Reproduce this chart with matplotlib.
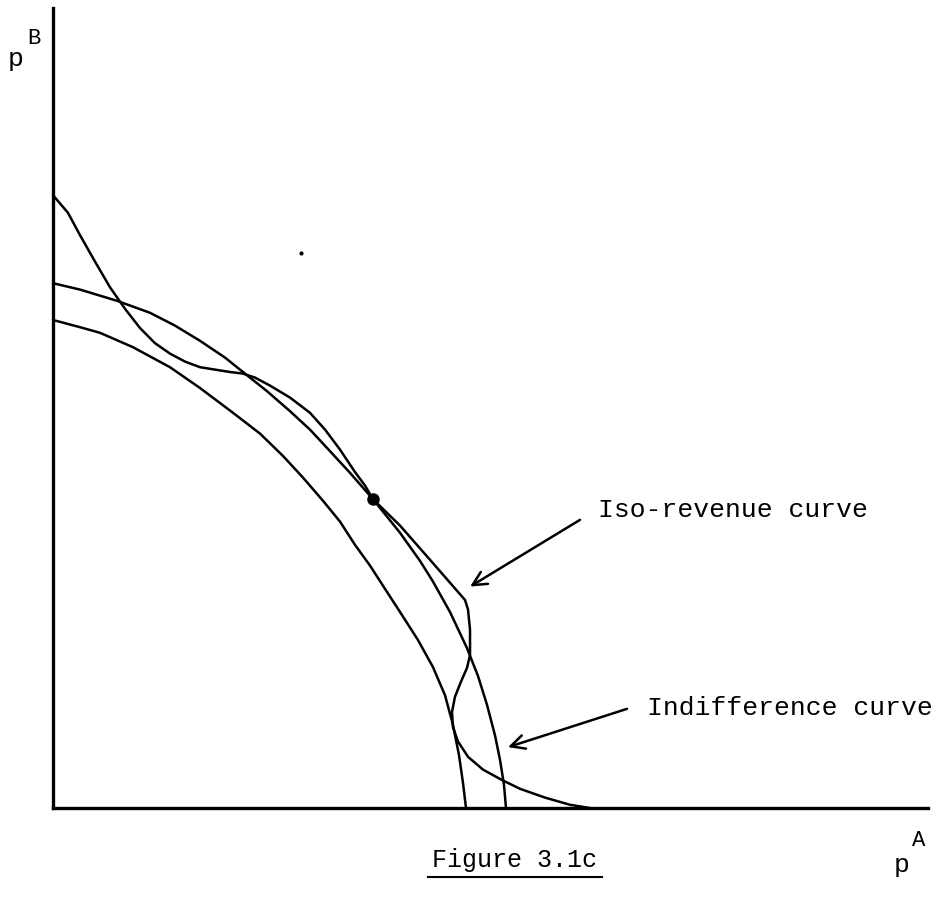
import numpy as np
import matplotlib
matplotlib.use('Agg')
import matplotlib.pyplot as plt

plt.rcParams['font.family'] = ['Liberation Mono', 'DejaVu Sans Mono']

# inner arc
inner_pa = [0.0, 0.309, 0.537, 0.914, 1.337, 1.680, 2.057, 2.366, 2.629, 2.857, 3.086, 3.280,
            3.451, 3.623, 3.794, 3.966, 4.171, 4.343, 4.480, 4.571, 4.640, 4.686, 4.720]
inner_pb = [6.10, 6.01, 5.94, 5.76, 5.51, 5.25, 4.94, 4.68, 4.40, 4.13, 3.84, 3.58,
            3.29, 3.03, 2.74, 2.45, 2.10, 1.76, 1.41, 1.04, 0.66, 0.31, 0.0]

# outer arc
outer_pa = [0.0, 0.309, 0.731, 1.109, 1.394, 1.680, 1.966, 2.171, 2.446, 2.709, 2.937, 3.166, 3.394,
            3.657, 3.966, 4.194, 4.343, 4.537, 4.731, 4.857, 4.960, 5.051, 5.109, 5.154, 5.177]
outer_pb = [6.56, 6.48, 6.34, 6.19, 6.03, 5.84, 5.63, 5.45, 5.21, 4.96, 4.73, 4.46, 4.19,
            3.86, 3.44, 3.09, 2.83, 2.45, 2.00, 1.65, 1.29, 0.91, 0.60, 0.29, 0.0]

# iso-revenue curve
iso_pa = [0.0, 0.171, 0.309, 0.480, 0.651, 0.823, 0.994, 1.166, 1.337, 1.509, 1.680, 1.851, 2.023,
          2.171, 2.309, 2.480, 2.709, 2.937, 3.109, 3.280, 3.451, 3.566, 3.657, 3.966, 4.343, 4.709,
          4.743, 4.766, 4.766, 4.731, 4.663, 4.594, 4.560, 4.571, 4.629, 4.743, 4.914, 5.131,
          5.337, 5.623, 5.909, 6.137]
iso_pb = [7.66, 7.44, 7.16, 6.83, 6.51, 6.24, 6.00, 5.81, 5.68, 5.58, 5.51, 5.48, 5.45,
          5.43, 5.38, 5.28, 5.13, 4.94, 4.73, 4.48, 4.20, 4.03, 3.86, 3.53, 3.06, 2.60,
          2.48, 2.23, 1.91, 1.75, 1.58, 1.39, 1.20, 1.01, 0.83, 0.64, 0.48, 0.35,
          0.24, 0.13, 0.04, 0.0]

tangency = (3.657, 3.86)
speck = (2.83, 6.94)

iso_label = 'Iso-revenue curve'
iso_tail, iso_head = (6.05, 3.62), (4.74, 2.75)
ind_label = 'Indifference curve'
ind_tail, ind_head = (6.59, 1.25), (5.17, 0.75)

fig = plt.figure(figsize=(9.41, 9.0), dpi=100)
ax = fig.add_axes([53/941, 92/900, 875/941, 800/900])
ax.set_xlim(0, 10)
ax.set_ylim(0, 10)
for s in ['top', 'right']:
    ax.spines[s].set_visible(False)
for s in ['left', 'bottom']:
    ax.spines[s].set_linewidth(2.4)
ax.set_xticks([])
ax.set_yticks([])

lw = 1.8
for xs, ys in [(inner_pa, inner_pb), (outer_pa, outer_pb), (iso_pa, iso_pb)]:
    ax.plot(xs, ys, 'k', lw=lw, solid_joinstyle='round', solid_capstyle='round', clip_on=False)
ax.plot(*tangency, 'ko', ms=8)
ax.plot(*speck, 'ko', ms=2)

ax.annotate('', xy=iso_head, xytext=iso_tail,
            arrowprops=dict(arrowstyle='->', lw=1.8, color='k', mutation_scale=25))
ax.annotate('', xy=ind_head, xytext=ind_tail,
            arrowprops=dict(arrowstyle='->', lw=1.8, color='k', mutation_scale=25))
ax.text(iso_tail[0] + 0.18, iso_tail[1] + 0.1, iso_label, fontsize=19, va='center', ha='left')
ax.text(ind_tail[0] + 0.20, ind_tail[1] + 0.0, ind_label, fontsize=19, va='center', ha='left')

# axis labels
fig.text(8/941, 1 - 66/900, 'p', fontsize=19, ha='left', va='baseline')
fig.text(27/941, 1 - 44/900, 'B', fontsize=16, ha='left', va='baseline')
fig.text(894/941, 1 - 872/900, 'p', fontsize=19, ha='left', va='baseline')
fig.text(912/941, 1 - 846/900, 'A', fontsize=16, ha='left', va='baseline')

fig.text(515/941, 1 - 867/900, 'Figure 3.1c', fontsize=18, ha='center', va='baseline')
fig.add_artist(plt.Line2D([428/941, 602/941], [1 - 877/900, 1 - 877/900], color='k', lw=1.5))

fig.savefig('out.png', dpi=100, facecolor='white')
